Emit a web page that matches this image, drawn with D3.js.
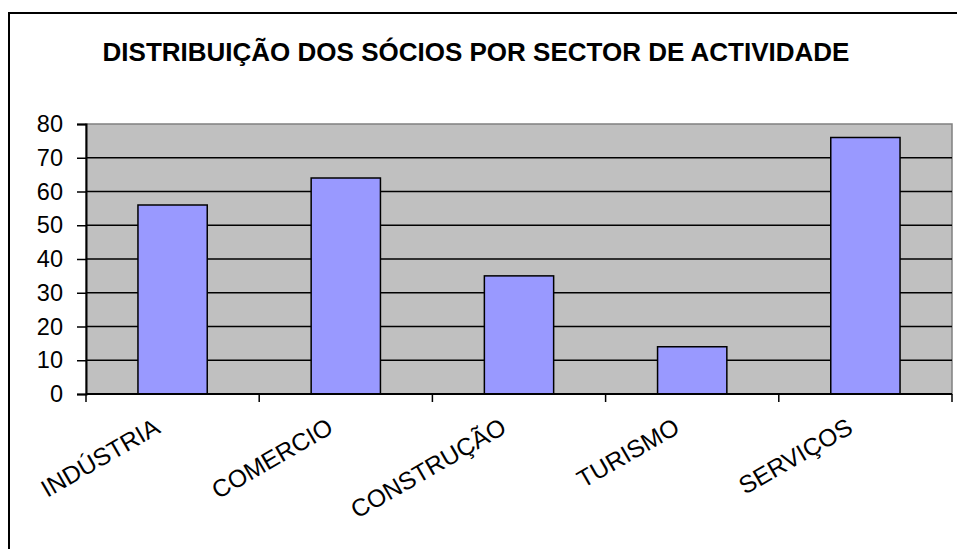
<!DOCTYPE html>
<meta charset="utf-8">
<style>
  body { margin: 0; background: #fff; }
  text { font-family: "Liberation Sans", Arial, sans-serif; }
</style>
<svg width="957" height="549"></svg>
<script src="https://d3js.org/d3.v7.min.js"></script>
<script>

var sectors = ["INDÚSTRIA", "COMERCIO", "CONSTRUÇÃO", "TURISMO", "SERVIÇOS"];
var socios = [56, 64, 35, 14, 76];
var yTicks = [0, 10, 20, 30, 40, 50, 60, 70, 80];

var svg = d3.select("svg"),
    plotLeft = 86, plotRight = 952, plotTop = 124, plotBottom = 394;

// outer frame runs off the right and bottom of the picture
svg.append("rect")
    .attr("x", 9).attr("y", 13)
    .attr("width", 960).attr("height", 560)
    .attr("fill", "none")
    .attr("stroke", "#000")
    .attr("stroke-width", 2);

svg.append("text")
    .attr("x", 476)
    .attr("y", 61)
    .attr("text-anchor", "middle")
    .attr("font-size", 26)
    .attr("font-weight", "bold")
    .text("DISTRIBUIÇÃO DOS SÓCIOS POR SECTOR DE ACTIVIDADE");

var x = d3.scaleBand()
    .domain(sectors)
    .range([plotLeft, plotRight])
    .paddingInner(0.6)
    .paddingOuter(0.3);

var band = d3.scaleBand().domain(sectors).range([plotLeft, plotRight]);

var y = d3.scaleLinear()
    .domain([0, 80])
    .range([plotBottom, plotTop]);

// plot area
svg.append("rect")
    .attr("x", plotLeft).attr("y", plotTop)
    .attr("width", plotRight - plotLeft).attr("height", plotBottom - plotTop)
    .attr("fill", "#c0c0c0")
    .attr("stroke", "#808080")
    .attr("stroke-width", 1.5);

svg.append("g")
  .selectAll("line")
  .data(yTicks.slice(1, -1))
  .enter().append("line")
    .attr("x1", plotLeft).attr("x2", plotRight)
    .attr("y1", y).attr("y2", y)
    .attr("stroke", "#000")
    .attr("stroke-width", 1.5);

svg.append("g")
  .selectAll("rect")
  .data(sectors)
  .enter().append("rect")
    .attr("x", function(d) { return x(d); })
    .attr("width", x.bandwidth())
    .attr("y", function(d, i) { return y(socios[i]); })
    .attr("height", function(d, i) { return y(0) - y(socios[i]); })
    .attr("fill", "#9999ff")
    .attr("stroke", "#000")
    .attr("stroke-width", 1.5);

// y axis
var yAxis = svg.append("g")
    .attr("transform", "translate(" + plotLeft + ",0)")
    .call(d3.axisLeft(y).tickValues(yTicks).tickSize(9).tickPadding(14));
yAxis.select(".domain").attr("stroke-width", 2);
yAxis.selectAll(".tick line").attr("stroke-width", 1.5);
yAxis.selectAll("text")
    .attr("font-size", 23.5)
    .attr("fill", "#000")
    .style("font-family", "Liberation Sans, Arial, sans-serif");

// x axis: ticks on band boundaries
var xAxis = svg.append("g");
xAxis.append("line")
    .attr("x1", plotLeft).attr("x2", plotRight)
    .attr("y1", plotBottom).attr("y2", plotBottom)
    .attr("stroke", "#000")
    .attr("stroke-width", 2);
xAxis.selectAll(".xt")
  .data(sectors.concat(["end"]))
  .enter().append("line")
    .attr("class", "xt")
    .attr("x1", function(d, i) { return plotLeft + i * band.bandwidth(); })
    .attr("x2", function(d, i) { return plotLeft + i * band.bandwidth(); })
    .attr("y1", plotBottom).attr("y2", plotBottom + 8)
    .attr("stroke", "#000")
    .attr("stroke-width", 1.5);

xAxis.selectAll("text")
  .data(sectors)
  .enter().append("text")
    .attr("transform", function(d) {
      return "translate(" + (band(d) + band.bandwidth() / 2 - 11) + "," + (plotBottom + 38) + ")rotate(-30)";
    })
    .attr("text-anchor", "end")
    .attr("font-size", 24.5)
    .text(function(d) { return d; });

</script>
